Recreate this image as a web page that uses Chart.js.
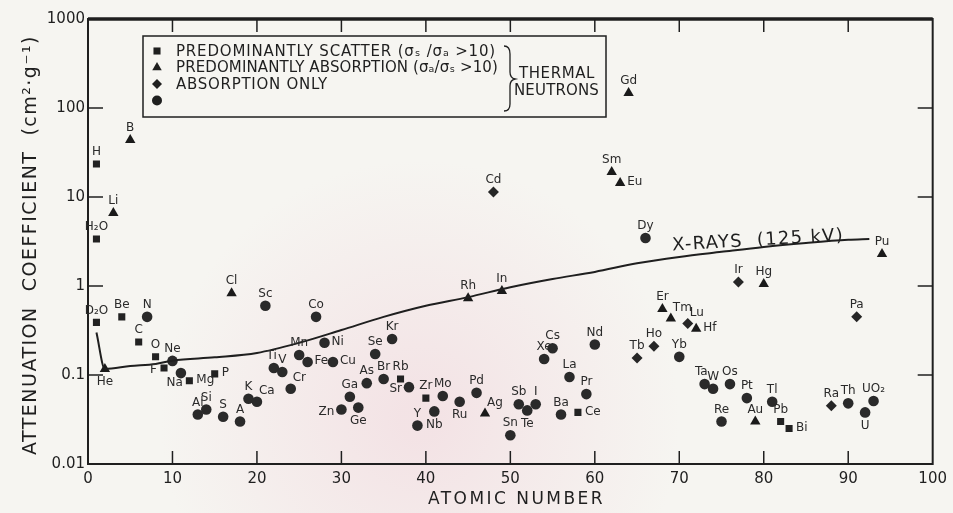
<!DOCTYPE html>
<html>
<head>
<meta charset="utf-8">
<script src="https://cdn.jsdelivr.net/npm/chart.js@4.4.0/dist/chart.umd.min.js"></script>
<style>
  body { margin: 0; background: #f6f5f1; }
  #wrap { width: 953px; height: 513px; }
</style>
</head>
<body>
<div id="wrap"><canvas id="chart" width="953" height="513"></canvas></div>
<script>
// thermal neutrons: predominantly scatter
const scatterNames = ['H', 'H₂O', 'D₂O', 'Be', 'C', 'O', 'F', 'Mg', 'P', 'Rb', 'Zr', 'Ce', 'Pb', 'Bi'];
const scatterZ = [1, 1, 1, 4, 6, 8, 9, 12, 15, 37, 40, 58, 82, 83];
const scatterMu = [23.5, 3.37, 0.39, 0.45, 0.235, 0.16, 0.12, 0.086, 0.103, 0.09, 0.055, 0.038, 0.03, 0.025];

// predominantly absorption
const absorbNames = ['He', 'Li', 'B', 'Cl', 'Rh', 'In', 'Ag', 'Sm', 'Eu', 'Gd', 'Er', 'Tm', 'Hf', 'Au', 'Hg', 'Pu'];
const absorbZ = [2, 3, 5, 17, 45, 49, 47, 62, 63, 64, 68, 69, 72, 79, 80, 94];
const absorbMu = [0.117, 6.6, 43.7, 0.83, 0.73, 0.88, 0.037, 19.1, 14.4, 147, 0.55, 0.43, 0.33, 0.03, 1.05, 2.29];

// absorption only
const onlyNames = ['Cd', 'Tb', 'Ho', 'Lu', 'Ir', 'Ra', 'Pa'];
const onlyZ = [48, 65, 67, 71, 77, 88, 91];
const onlyMu = [11.4, 0.155, 0.21, 0.38, 1.11, 0.045, 0.45];

// round symbols
const roundNames = ['N', 'Ne', 'Na', 'Al', 'Si', 'S', 'A', 'K', 'Ca', 'Sc',
  'Ti', 'V', 'Cr', 'Mn', 'Fe', 'Co', 'Ni', 'Cu', 'Zn', 'Ga',
  'Ge', 'As', 'Se', 'Br', 'Kr', 'Sr', 'Y', 'Nb', 'Mo', 'Ru',
  'Pd', 'Sn', 'Sb', 'Te', 'I', 'Xe', 'Cs', 'Ba', 'La', 'Pr',
  'Nd', 'Dy', 'Yb', 'Ta', 'W', 'Os', 'Re', 'Pt', 'Tl', 'Th',
  'U', 'UO₂'];
const roundZ = [7, 10, 11, 13, 14, 16, 18, 19, 20, 21,
  22, 23, 24, 25, 26, 27, 28, 29, 30, 31,
  32, 33, 34, 35, 36, 38, 39, 41, 42, 44,
  46, 50, 51, 52, 53, 54, 55, 56, 57, 59,
  60, 66, 70, 73, 74, 76, 75, 78, 81, 90,
  92, 93];
const roundMu = [0.45, 0.144, 0.105, 0.036, 0.041, 0.034, 0.03, 0.054, 0.05, 0.6,
  0.12, 0.108, 0.07, 0.168, 0.14, 0.45, 0.23, 0.14, 0.041, 0.057,
  0.043, 0.081, 0.172, 0.09, 0.254, 0.073, 0.027, 0.039, 0.058, 0.05,
  0.063, 0.021, 0.047, 0.04, 0.047, 0.151, 0.2, 0.036, 0.095, 0.061,
  0.22, 3.46, 0.16, 0.079, 0.07, 0.079, 0.03, 0.055, 0.05, 0.048,
  0.038, 0.051];

// x-rays (125 kV) curve
const xrayZ = [1, 2, 5, 8, 10, 15, 20, 25, 30, 35, 40, 45, 50, 55, 60, 65, 70, 75, 80, 85, 90, 92.5];
const xrayMu = [0.3, 0.117, 0.126, 0.133, 0.145, 0.158, 0.177, 0.23, 0.32, 0.45, 0.6, 0.75, 0.97, 1.2, 1.44, 1.8, 2.12, 2.42, 2.75, 3.04, 3.3, 3.37];

const yTickVals = [0.01, 0.1, 1, 10, 100, 1000];
const yTickLabels = ['0.01', '0.1', '1', '10', '100', '1000'];

// where a name sits if not above its symbol
const labelSpot = {
  F: 'left', Mg: 'right', P: 'right', Ce: 'right', Bi: 'right', He: 'below',
  Eu: 'right', Tm: 'aboveRight', Hf: 'right', Lu: 'aboveRight', Na: 'belowLeft',
  Ca: 'aboveRight', Cr: 'aboveRight', Fe: 'right', Ni: 'right', Cu: 'right',
  Zn: 'left', Ge: 'below', Sr: 'left', Nb: 'below', Ru: 'below', Te: 'below',
  U: 'below', Ag: 'aboveRight', Ti: 'aboveLeft', Ta: 'aboveLeft'
};

const INK = '#1f1f1f';
const PAPER = '#f6f5f1';
const FONT = '"DejaVu Sans"';

function pts(xs, ys) {
  return xs.map((x, i) => ({ x: x, y: ys[i] }));
}

// write text stretched by letter spacing to a given width
function fitText(ctx, text, x, y, width) {
  ctx.letterSpacing = '0px';
  const w = ctx.measureText(text).width;
  const n = [...text].length;
  ctx.letterSpacing = ((width - w) / n).toFixed(2) + 'px';
  ctx.fillText(text, x, y);
  ctx.letterSpacing = '0px';
}

const paperPlugin = {
  id: 'paper',
  beforeDraw(chart) {
    const ctx = chart.ctx;
    ctx.save();
    ctx.fillStyle = PAPER;
    ctx.fillRect(0, 0, chart.width, chart.height);
    const g = ctx.createRadialGradient(420, 420, 20, 420, 420, 260);
    g.addColorStop(0, 'rgba(240, 205, 215, 0.45)');
    g.addColorStop(1, 'rgba(240, 205, 215, 0)');
    ctx.fillStyle = g;
    ctx.fillRect(0, 0, chart.width, chart.height);
    ctx.restore();
  }
};

const framePlugin = {
  id: 'frame',
  beforeDatasetsDraw(chart) {
    const { ctx, chartArea: a, scales } = chart;
    const line = (x1, y1, x2, y2) => { ctx.beginPath(); ctx.moveTo(x1, y1); ctx.lineTo(x2, y2); ctx.stroke(); };
    ctx.save();
    ctx.strokeStyle = INK;
    ctx.lineWidth = 2;
    ctx.strokeRect(a.left, a.top, a.right - a.left, a.bottom - a.top);
    ctx.lineWidth = 3.5;
    line(a.left, a.top, a.right, a.top);
    ctx.lineWidth = 1.5;
    scales.x.ticks.forEach(t => {
      if (t.value <= 0 || t.value >= 100) return;
      const px = scales.x.getPixelForValue(t.value);
      line(px, a.bottom, px, a.bottom - 13);
      line(px, a.top, px, a.top + 13);
    });
    scales.y.ticks.forEach(t => {
      if (t.value <= 0.01 || t.value >= 1000) return;
      const py = scales.y.getPixelForValue(t.value);
      line(a.left, py, a.left + 15, py);
      line(a.right, py, a.right - 15, py);
    });

    // axis titles
    ctx.fillStyle = INK;
    ctx.textBaseline = 'middle';
    ctx.textAlign = 'left';
    ctx.font = '17px ' + FONT;
    fitText(ctx, 'ATOMIC NUMBER', 428, 500, 177);
    ctx.translate(31, 455);
    ctx.rotate(-Math.PI / 2);
    ctx.font = '19px ' + FONT;
    fitText(ctx, 'ATTENUATION  COEFFICIENT  (cm²·g⁻¹)', 0, 0, 420);
    ctx.restore();
  }
};

const namePlugin = {
  id: 'pointNames',
  afterDatasetsDraw(chart) {
    const ctx = chart.ctx;
    ctx.save();
    ctx.font = '12px ' + FONT;
    ctx.fillStyle = '#2a2a2a';
    ctx.textBaseline = 'middle';
    chart.data.datasets.forEach((ds, i) => {
      if (!ds.names) return;
      chart.getDatasetMeta(i).data.forEach((pt, j) => {
        const name = ds.names[j];
        const spot = labelSpot[name] || 'above';
        let x = pt.x, y = pt.y;
        if (spot === 'above') { ctx.textAlign = 'center'; y -= 12; }
        else if (spot === 'below') { ctx.textAlign = 'center'; y += 13; }
        else if (spot === 'right') { ctx.textAlign = 'left'; x += 7; y -= 1; }
        else if (spot === 'left') { ctx.textAlign = 'right'; x -= 7; y += 2; }
        else if (spot === 'aboveRight') { ctx.textAlign = 'left'; x += 2; y -= 11; }
        else if (spot === 'aboveLeft') { ctx.textAlign = 'right'; x += 3; y -= 12; }
        else if (spot === 'belowLeft') { ctx.textAlign = 'right'; x += 2; y += 10; }
        ctx.fillText(name, x, y);
      });
    });

    // curve caption
    const cx = chart.scales.x.getPixelForValue(69.2);
    const cy = chart.scales.y.getPixelForValue(2.5);
    ctx.translate(cx, cy);
    ctx.rotate(-3.4 * Math.PI / 180);
    ctx.font = '18px ' + FONT;
    ctx.textAlign = 'left';
    ctx.textBaseline = 'alphabetic';
    ctx.fillStyle = INK;
    fitText(ctx, 'X-RAYS  (125 kV)', 0, 0, 172);
    ctx.restore();
  }
};

const keyPlugin = {
  id: 'keyBox',
  afterDraw(chart) {
    const ctx = chart.ctx;
    ctx.save();
    ctx.fillStyle = PAPER;
    ctx.fillRect(143, 36, 463, 81);
    ctx.strokeStyle = INK;
    ctx.lineWidth = 1.5;
    ctx.strokeRect(143, 36, 463, 81);

    const rows = [
      { style: 'rect', r: 5, text: 'PREDOMINANTLY SCATTER (σₛ /σₐ >10)', w: 320 },
      { style: 'triangle', r: 5.5, text: 'PREDOMINANTLY ABSORPTION (σₐ/σₛ >10)', w: 322 },
      { style: 'rectRot', r: 5, text: 'ABSORPTION ONLY', w: 152 },
      { style: 'circle', r: 5, text: '', w: 0 }
    ];
    ctx.font = '15px ' + FONT;
    ctx.textBaseline = 'middle';
    ctx.textAlign = 'left';
    rows.forEach((row, i) => {
      const y = 51 + i * 16.5;
      ctx.fillStyle = INK;
      Chart.helpers.drawPoint(ctx, { pointStyle: row.style, radius: row.r, rotation: 0, borderWidth: 0 }, 157, y);
      ctx.fillStyle = INK;
      if (row.text) fitText(ctx, row.text, 176, y + 1, row.w);
    });

    // brace
    ctx.beginPath();
    ctx.lineWidth = 1.3;
    ctx.moveTo(504, 46);
    ctx.quadraticCurveTo(510, 46, 510, 54);
    ctx.lineTo(510, 72);
    ctx.quadraticCurveTo(510, 78, 515, 79);
    ctx.quadraticCurveTo(510, 80, 510, 86);
    ctx.lineTo(510, 104);
    ctx.quadraticCurveTo(510, 111, 504, 111);
    ctx.stroke();

    ctx.textAlign = 'left';
    ctx.font = '15px ' + FONT;
    fitText(ctx, 'THERMAL', 519, 74, 76);
    fitText(ctx, 'NEUTRONS', 514, 91, 85);
    ctx.restore();
  }
};

const datasets = [
  {
    type: 'line',
    label: 'X-RAYS (125 kV)',
    data: pts(xrayZ, xrayMu),
    borderColor: INK,
    borderWidth: 2,
    pointRadius: 0,
    cubicInterpolationMode: 'monotone',
    fill: false
  },
  {
    label: 'PREDOMINANTLY SCATTER',
    names: scatterNames,
    data: pts(scatterZ, scatterMu),
    pointStyle: 'rect',
    pointRadius: 5,
    backgroundColor: '#222',
    borderWidth: 0
  },
  {
    label: 'PREDOMINANTLY ABSORPTION',
    names: absorbNames,
    data: pts(absorbZ, absorbMu),
    pointStyle: 'triangle',
    pointRadius: 6,
    backgroundColor: '#1a1a1a',
    borderWidth: 0
  },
  {
    label: 'ABSORPTION ONLY',
    names: onlyNames,
    data: pts(onlyZ, onlyMu),
    pointStyle: 'rectRot',
    pointRadius: 5.5,
    backgroundColor: '#262626',
    borderWidth: 0
  },
  {
    label: 'round',
    names: roundNames,
    data: pts(roundZ, roundMu),
    pointStyle: 'circle',
    pointRadius: 5.3,
    backgroundColor: '#2a2a2a',
    borderWidth: 0
  }
];

Chart.defaults.font.family = FONT + ', sans-serif';
Chart.defaults.color = INK;

new Chart(document.getElementById('chart'), {
  type: 'scatter',
  data: { datasets: datasets },
  options: {
    responsive: false,
    devicePixelRatio: 1,
    animation: false,
    layout: { padding: { top: 19, right: 18, left: 0, bottom: 0 } },
    plugins: { legend: { display: false }, tooltip: { enabled: false } },
    scales: {
      x: {
        type: 'linear',
        min: 0,
        max: 100,
        ticks: { stepSize: 10, font: { size: 15 }, color: INK, padding: 6, maxRotation: 0 },
        grid: { display: false, drawTicks: false },
        border: { display: false },
        afterFit(scale) { scale.height = 49; }
      },
      y: {
        type: 'logarithmic',
        min: 0.01,
        max: 1000,
        afterBuildTicks(scale) { scale.ticks = yTickVals.map(v => ({ value: v })); },
        ticks: {
          font: { size: 15 },
          color: INK,
          padding: 3,
          callback: (v) => yTickLabels[yTickVals.indexOf(v)]
        },
        grid: { display: false, drawTicks: false },
        border: { display: false },
        afterFit(scale) { scale.width = 88; }
      }
    }
  },
  plugins: [paperPlugin, framePlugin, namePlugin, keyPlugin]
});
</script>
</body>
</html>
